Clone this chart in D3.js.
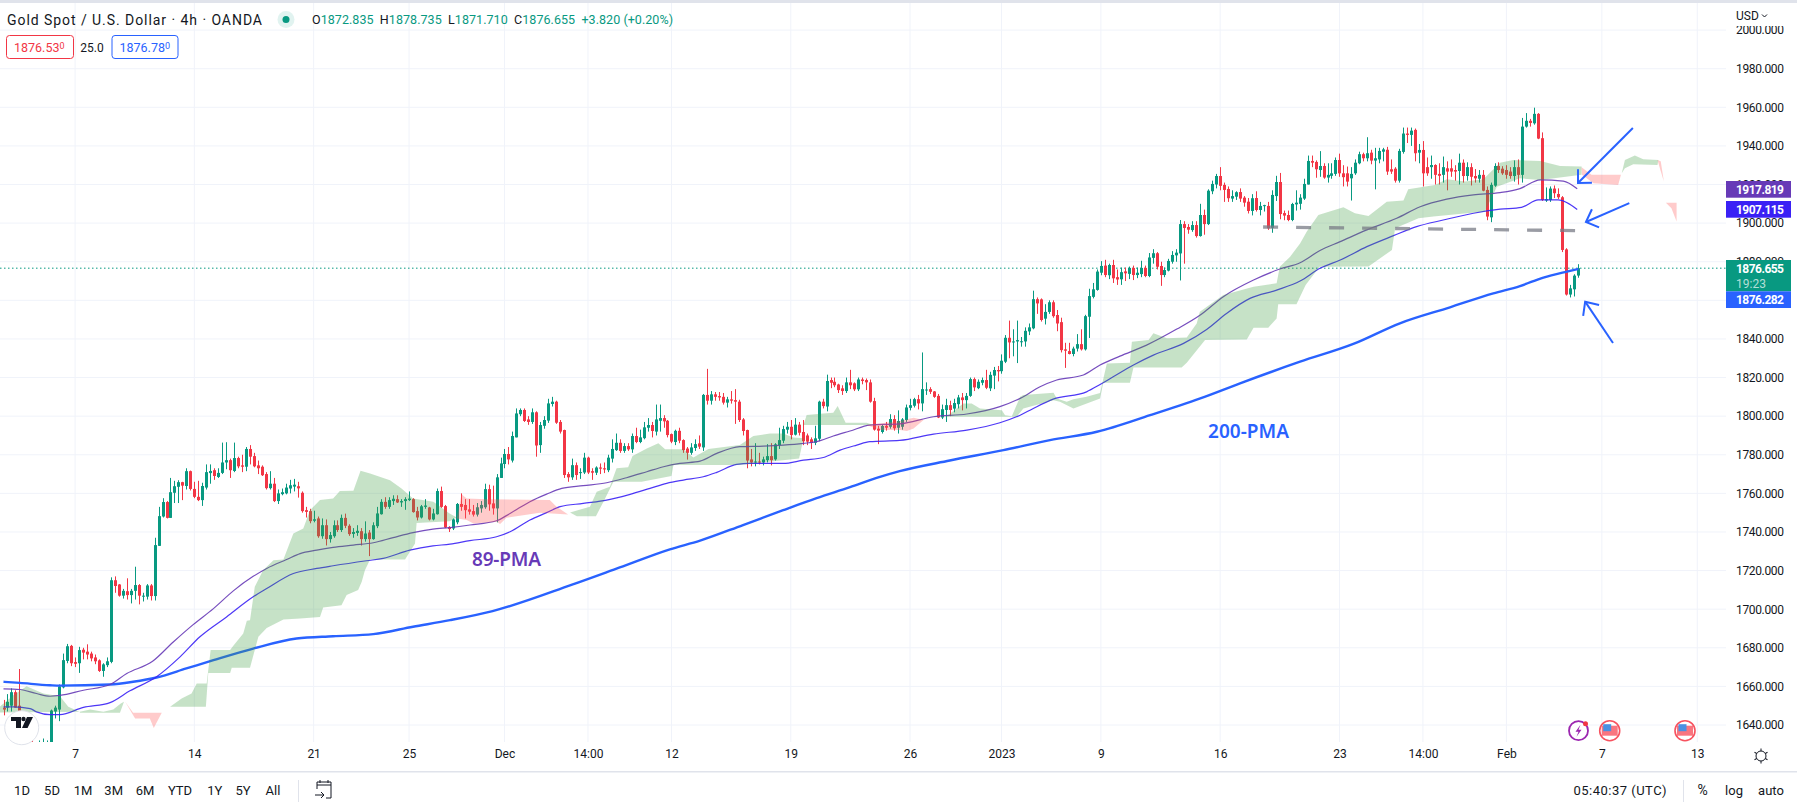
<!DOCTYPE html>
<html>
<head>
<meta charset="utf-8">
<script src="https://cdnjs.cloudflare.com/ajax/libs/d3/7.8.5/d3.min.js"></script>
<style>
  html, body { margin: 0; padding: 0; background: #fff; overflow: hidden; }
  text { font-family: Roboto, "Noto Sans", sans-serif; }
</style>
</head>
<body>
<svg id="chart" width="1797" height="810"></svg>
<script>
const UP = '#089981', DOWN = '#f23645', BLUE = '#2962ff', PURPLE = '#673ab7', INDIGO = '#3a21f5';
const TEXT = '#131722', GRID = '#f0f3fa', BORDER = '#e0e3eb';
const PANE = { left: 0, right: 1726, top: 3, bottom: 742 };

// 4h candles, oldest first: open, high, low, close
const candles = [
  [1649,1653,1645,1648],[1649,1656,1647,1652],[1650,1659,1647,1657],[1657,1658,1649,1649],[1650,1669,1640,1642],
  [1620,1633,1615,1628],[1640,1642,1625,1628],[1636,1637,1615,1620],[1622,1630,1618,1625],[1622,1632,1618,1628],
  [1623,1633,1619,1629],[1624,1632,1620,1629],[1625,1648,1622,1647.5],[1647,1650,1643.4,1649],[1648,1661,1642,1660],
  [1659.5,1677,1659,1673.6],[1673.2,1682,1672,1680.8],[1681,1681.5,1670.5,1672],[1672.6,1675,1670,1671.7],[1672,1680.5,1667,1678.8],
  [1679,1680,1674,1677.5],[1678,1681.8,1674,1676.5],[1677,1678,1673,1674.5],[1675,1676.5,1671.5,1673],[1673.5,1674,1667.5,1668],
  [1668,1672,1665,1671.4],[1671,1675,1670,1673],[1672.7,1716.5,1672,1715],[1715,1717,1708.5,1712],[1712.8,1713,1706.5,1707],
  [1707,1710.5,1705.5,1709.5],[1709.3,1716,1705,1707.3],[1707.3,1710.5,1703,1709.5],[1709.5,1722,1705,1712.5],[1712.5,1713,1702.5,1707],
  [1706.5,1708.5,1704,1707],[1706.5,1713,1705,1712.3],[1712.3,1713,1704.5,1706.8],[1706.8,1737,1704.5,1733.2],[1732.8,1753,1732.8,1748.2],
  [1748,1757.5,1747.5,1755.5],[1755.5,1756,1747,1747.3],[1747.3,1768,1747.3,1760.6],[1760.3,1766.5,1755,1763.7],[1763.4,1766.8,1755,1765.8],
  [1765.8,1766,1756.5,1764],[1763.8,1773,1762,1771.5],[1771.5,1771.8,1761.5,1762.3],[1762.3,1766,1757.5,1758.2],[1758.2,1766.5,1756,1756.5],
  [1756.5,1765.5,1753.5,1763.8],[1763,1775,1762,1771],[1770.5,1775,1765,1771.6],[1772,1773,1767,1769],[1768.5,1773,1768,1770.6],
  [1770.6,1786.3,1770,1776],[1776,1786.5,1772.5,1777.2],[1777.2,1778,1768,1772],[1771.6,1786.3,1771,1778.3],[1778.3,1779,1773,1774],
  [1774.5,1780,1771,1773.8],[1773.8,1784,1771.5,1783],[1783,1785,1775,1779],[1779.3,1781,1773.5,1774],[1774.5,1777,1770,1773],
  [1773.8,1774.5,1769,1769.4],[1770,1771,1762,1762.7],[1762.7,1771.5,1762,1765],[1765,1768,1755.5,1756],[1756,1762,1754.5,1760],
  [1759.6,1762.5,1759,1760.6],[1760,1765,1759.5,1763],[1762.5,1767,1760,1764.2],[1763.5,1767.5,1761,1764.5],[1763.7,1766,1757.8,1762.6],
  [1760.3,1761,1750,1750.8],[1751.3,1753,1747.5,1750.4],[1750.8,1752,1744.5,1745.6],[1745.8,1751,1745,1746.6],[1747,1748,1737,1737.8],
  [1737.8,1747,1736.5,1743.5],[1743.5,1746.5,1733,1736.3],[1736.3,1740,1734.5,1738.4],[1737.8,1746,1737,1743.5],[1743.5,1746,1740,1741],
  [1741,1749,1740,1747.3],[1747.3,1749.5,1742,1743.2],[1743.2,1744,1738,1738.9],[1739,1742,1737,1740],[1739.5,1743.5,1738,1740.6],
  [1740.4,1742,1733,1736.3],[1736.3,1745.5,1735,1739.2],[1739.7,1741,1727.5,1736.3],[1736.3,1745,1736,1743.5],[1743,1753,1742,1749.6],
  [1749.2,1757,1749,1755.6],[1755.6,1758,1752,1753],[1753,1758,1752,1756.5],[1756,1759,1754,1757.2],[1757,1759,1755,1755.3],
  [1755.3,1757,1753,1756],[1756,1758,1751.5,1757],[1756.5,1761,1756,1757.3],[1757,1757.5,1750,1750.3],[1750.8,1753,1746,1747.5],
  [1747.5,1754,1747,1753.3],[1753,1757,1752,1753.7],[1752.7,1753,1746,1746.5],[1746.5,1752,1746,1749.6],[1749.2,1762.5,1749,1761.2],
  [1761.2,1763.5,1752.5,1753],[1753.4,1754,1742,1742.3],[1742.6,1743,1740,1741.5],[1741.8,1747,1741,1746.5],[1745,1755,1744,1754.5],
  [1754.5,1760,1751,1753],[1754,1757,1747,1751.3],[1751.7,1757,1749,1750.5],[1750.8,1754,1748,1749],[1749,1755,1748,1752.8],
  [1752.2,1756,1750,1754],[1752.8,1765,1752,1762.2],[1762.2,1764.5,1751,1754.3],[1754.8,1764,1749,1752.2],[1752.2,1770,1745,1768.3],
  [1768,1778.5,1768,1775.5],[1775.2,1783,1773,1780.4],[1780.4,1784,1775,1777.6],[1777,1792,1776,1789.7],[1789,1804,1789,1801.4],
  [1801,1804,1800,1803.2],[1803.2,1804,1797,1797.5],[1798.3,1800,1795.5,1797],[1797,1804,1796,1802],[1802,1802.5,1779,1784.8],
  [1785,1797,1781,1795.4],[1795,1800,1793.5,1798],[1797.7,1809,1796.5,1806.6],[1806.3,1810,1805,1807.5],[1807.5,1808,1796,1796.6],
  [1797,1798,1791,1792],[1792.8,1793,1768,1769.5],[1770,1771,1766,1768.3],[1768.3,1778,1767,1774.6],[1774.6,1776,1767,1769.5],
  [1770.5,1773,1767.5,1771],[1770.8,1781,1770,1778.5],[1778.5,1779,1770,1770.8],[1771.5,1773,1767,1770.7],[1770.7,1774,1769.5,1773.4],
  [1773.4,1775.5,1770,1772.8],[1773,1776,1770.5,1772.4],[1772,1780,1771,1778.5],[1778,1788,1776,1783],[1782.4,1791,1782,1786.2],
  [1786.2,1788,1781,1782],[1782,1786,1781,1784.5],[1784.5,1786,1782,1782.8],[1782.8,1791,1781,1789.7],[1789.7,1794,1786,1786.6],
  [1786.6,1793,1786,1789],[1788.6,1797,1788,1794.2],[1794,1799,1792,1795.4],[1795.4,1797,1789,1792.3],[1792,1806,1790,1798.3],
  [1797.6,1806,1792,1799],[1799,1800.5,1794,1797.3],[1797.6,1798,1789,1790.2],[1790.7,1791,1786,1786.8],[1786.6,1793,1785,1792.4],
  [1792.4,1794,1786,1787.3],[1787.6,1788,1781,1782.4],[1783.2,1784,1777.5,1781],[1781,1786,1780,1783.8],[1783.5,1788,1782,1785.5],
  [1785.9,1790,1783,1784.2],[1783.8,1811.5,1782,1811],[1811,1824.5,1806,1808],[1808,1813,1806,1811.3],[1811.3,1812.5,1808,1810],
  [1810.4,1812.5,1808,1809.7],[1810,1812,1806,1807],[1807,1810,1804.5,1808.7],[1808.7,1813,1806.5,1808],[1808.3,1814,1796,1807.5],
  [1807.5,1808.5,1797,1798],[1798.3,1799,1790,1792.3],[1792.8,1793,1773,1777],[1777.6,1783,1774,1776],[1776,1786,1774,1776.5],
  [1776.5,1781,1775,1776],[1776,1779,1774.5,1777.6],[1777.2,1785.5,1776,1779.3],[1779.3,1786,1774.5,1777.2],[1777.6,1786,1777,1785.4],
  [1785,1794,1783,1787.6],[1787.3,1795,1786,1793.3],[1793,1797,1791,1794.5],[1794.5,1798,1788,1790.2],[1790.4,1799,1790,1795.6],
  [1795.6,1797,1790,1791.4],[1791.8,1798,1785,1787],[1790,1791,1785,1786.8],[1788,1789,1783,1786.2],[1786.2,1795,1785,1788.5],
  [1788.3,1808,1787,1807.5],[1807.5,1809,1804,1805.2],[1805,1821.5,1802.5,1818.2],[1818.7,1820,1814.5,1817.3],[1817.8,1820,1815,1816],
  [1816.4,1816.8,1812,1813.5],[1814.4,1816,1811,1813],[1813,1820,1812,1817.5],[1817.5,1824,1814,1816],[1817,1817.5,1813,1813.9],
  [1813.9,1820,1813,1819],[1819,1820,1816.5,1818.2],[1818.7,1819.5,1813.5,1817.5],[1817.5,1819,1807,1807.5],[1807.8,1809.5,1792.5,1793],
  [1793.5,1795,1785.5,1792.5],[1791.8,1795.5,1791,1794.9],[1795,1797,1792.5,1794],[1794.5,1801,1793.5,1798.5],[1798.5,1800.5,1792.5,1793.7],
  [1794,1803,1791,1797.5],[1794.5,1799,1793,1798.3],[1798,1806,1797,1804.5],[1804.3,1809,1803,1805.7],[1805.4,1809.5,1804.5,1808.8],
  [1808.8,1811,1803.5,1806.6],[1806.6,1833,1802.5,1814],[1813.5,1817.5,1811,1813.8],[1814,1815,1811.5,1812.6],[1812.8,1813,1809.5,1810],
  [1810.5,1811.5,1799,1799.3],[1799.3,1806,1798.5,1803.6],[1803.2,1809,1797,1805.7],[1805.7,1808,1800,1803.2],[1803.9,1809,1802,1806.8],
  [1806.2,1811,1804,1809.7],[1809.7,1812,1803,1808.3],[1808.3,1812,1804,1810.5],[1810.5,1820,1810,1819.2],[1819.2,1820,1813,1814.9],
  [1814.5,1819,1814,1817.8],[1817.3,1820,1816,1818.7],[1818.7,1824,1814,1814.7],[1814.4,1823,1813,1821.4],[1821,1825.5,1814,1823.9],
  [1823.9,1826,1818,1823.2],[1823.3,1832,1822,1828.7],[1828.2,1842,1827.5,1840.6],[1840.6,1849.5,1830,1838.2],[1838.2,1845,1831,1838.7],
  [1838.7,1849.5,1827.5,1839.4],[1838.4,1841,1836,1838.8],[1838.7,1846,1836,1844.2],[1843.9,1848,1842,1846],[1845.5,1865,1845,1860.6],
  [1860.6,1861.5,1853,1858.4],[1860.5,1861,1849,1849.8],[1850.5,1858,1847.5,1854],[1854,1860,1853,1859],[1859,1860,1851,1851.8],
  [1852.4,1855,1844,1848],[1848.7,1851,1833,1834.2],[1834.6,1838,1825,1833.9],[1833.7,1838,1832,1832.2],[1832.2,1836,1831,1835],
  [1835,1842.5,1833.5,1837.3],[1837.3,1845,1834,1834.6],[1834.6,1852.5,1834,1851.8],[1851.5,1866,1840.5,1862.2],[1861.8,1869,1861,1865.7],
  [1865.4,1876,1865,1874.9],[1874.3,1880.3,1873,1877.8],[1878,1881,1872,1873.1],[1873,1879,1871,1878.3],[1878.3,1881,1869,1871.4],
  [1872,1876,1868,1870.8],[1870.9,1877,1868,1874.6],[1875,1877,1870,1874],[1873.7,1877.5,1871,1876.8],[1876.8,1878,1870.5,1873.1],
  [1873.1,1877,1871.5,1874.3],[1873.6,1880.5,1872,1876.8],[1876.8,1878,1872,1872.6],[1872.6,1884.5,1872,1882.2],[1882,1886.5,1879,1884.4],
  [1884.4,1885,1876,1877.4],[1877.8,1880,1867.5,1873.1],[1873.1,1877,1872,1875.7],[1875.4,1881.5,1875,1880.4],[1880,1885.5,1879,1883.5],
  [1883.3,1886.5,1880,1884.7],[1884.3,1901.6,1870.3,1899.5],[1899.5,1901,1879,1897.5],[1898,1899.5,1894.5,1896.6],[1896.4,1901,1895.5,1899],
  [1899,1901,1892.5,1893.3],[1893.3,1910,1893,1904.2],[1904.2,1907,1894,1899.5],[1899.5,1917.5,1899,1916.8],[1916.5,1922,1915,1920.3],
  [1920,1925.5,1918,1924.4],[1924.4,1929,1917,1919.3],[1919.8,1921,1911,1917.2],[1917.7,1919,1911,1912.9],[1912.7,1917,1911,1914],
  [1913.7,1916.5,1912,1916],[1916.1,1918,1911,1912.7],[1913.2,1914,1908.5,1910.6],[1911.1,1913,1905,1906.3],[1906.3,1915,1904,1912.9],
  [1913,1916.5,1906,1906.8],[1906.8,1911,1904,1908.9],[1908.9,1909.5,1906,1909.3],[1908.9,1911,1896.5,1897.3],[1897.6,1917,1895,1914.6],
  [1914,1924.5,1911.5,1921.3],[1921.3,1926,1902,1904.7],[1905.2,1906.5,1901.5,1903.9],[1904.2,1906.5,1901,1901.6],[1901.6,1910.5,1901,1909.9],
  [1909.7,1917,1906.5,1910.6],[1910,1915,1907,1913.2],[1912.7,1923,1912,1920.3],[1920,1935,1920,1932.2],[1932.2,1935,1929,1931.3],
  [1931.7,1932.5,1923.5,1927.9],[1927.5,1937.3,1924,1929.6],[1929.6,1931,1923,1923.6],[1923.6,1931,1921,1925],[1924.5,1931,1923,1925.8],
  [1925.5,1934,1924.5,1932.7],[1932.7,1936,1924,1925.8],[1925.8,1930,1919,1923.8],[1925.8,1929.3,1919,1921.5],[1923.2,1929,1911.7,1925.5],
  [1925.8,1933,1925,1931.3],[1931,1937,1930.5,1935.7],[1935.7,1936.5,1932,1933.6],[1933.6,1944.5,1932,1936.2],[1936.5,1938,1930.5,1932.4],
  [1932.4,1939,1917.5,1933.6],[1933,1939,1931,1937.4],[1937,1939,1932,1938.2],[1938,1939.5,1925,1926.7],[1927.9,1933,1925.5,1926.7],
  [1928.2,1929,1921,1922],[1922,1938.5,1921,1937.4],[1936.9,1949.5,1936,1946.4],[1946.4,1949.5,1941.5,1945.7],[1945.7,1949.5,1940,1947.9],
  [1948.3,1949,1932,1936.2],[1936.5,1941,1931,1937.9],[1937.9,1942.5,1919,1925.8],[1929,1934,1924.5,1925.8],[1929,1935,1923,1930.1],
  [1930.1,1930.5,1920,1925],[1925.5,1931,1920,1924.5],[1925,1934.5,1921,1929],[1928.4,1932,1917,1926.7],[1928.4,1933,1924,1926.7],
  [1927.5,1930,1922,1926.7],[1927,1936,1920,1931.3],[1931.3,1933,1921,1924.4],[1924.4,1931.5,1922,1929],[1929,1931,1919.5,1924],
  [1924.4,1928,1921,1923.2],[1923,1927.5,1921,1925],[1925,1927.5,1916.5,1916.8],[1917.2,1919,1901.5,1903.4],[1903,1921,1900.5,1919.8],
  [1919.4,1931,1918.8,1929.6],[1929.6,1931.5,1926,1927.5],[1928.2,1929.5,1925,1925.8],[1927.5,1930,1923,1925],[1926.7,1929,1923,1924.4],
  [1924.4,1932.5,1921.5,1929],[1929,1933,1920,1925],[1925,1954.5,1921,1950],[1950,1957,1949.5,1953],[1953,1954,1950,1951.9],
  [1951.7,1959.8,1951,1956.6],[1956.6,1957,1943.5,1943.8],[1944,1947,1911.5,1912],[1911.7,1918.5,1911,1912.4],[1912,1919,1911,1917.9],
  [1917.9,1919.5,1913,1915.5],[1915.1,1918,1912.5,1913.4],[1913.4,1914,1885,1886.1],[1886.4,1887,1862.5,1863],[1863,1868,1861.5,1866.2],
  [1865.7,1873.5,1862,1872.8],[1872.835,1878.735,1871.71,1876.655]
];

// moving averages: [bar index, price]
const ma89 = [[0,1658.7],[4.1,1658.4],[8.3,1656.3],[11.7,1654.9],[14.2,1655.3],[20.1,1658],[26.8,1661],[31,1666.7],[37.5,1673],[42.7,1683],[47.7,1692],[52.8,1700.3],[57.8,1709.5],[62.8,1717],[66.2,1721.1],[71.2,1725.7],[74.6,1728.8],[78.8,1730.6],[82.9,1732],[88,1733.2],[93,1734.4],[98,1737.1],[103,1739.7],[108,1741.5],[112.3,1742.3],[117.3,1743.6],[124,1745.8],[127.4,1749.6],[132.4,1755.7],[136.6,1759.6],[140.4,1762.6],[145.8,1764],[151.7,1765.5],[156.7,1768.1],[161.8,1771.2],[166,1773.8],[170.1,1775.5],[175.2,1776.7],[179.4,1780.7],[185.2,1784.2],[191.1,1784.5],[196.1,1785],[201.2,1785.9],[204.5,1786.8],[208.7,1789.7],[212.9,1792.3],[217.9,1795.4],[225.4,1796],[233.9,1799.7],[242.3,1801.1],[250.6,1804.9],[255.7,1809.2],[260.7,1815.2],[264.9,1818.7],[271.6,1821.3],[275.8,1826.5],[280.8,1831.1],[287.5,1836.8],[295.1,1845.1],[301,1852.4],[306.8,1861.9],[314.4,1870.5],[321,1876.2],[326.1,1879.5],[331.1,1885.8],[336.2,1890.4],[342.9,1896.5],[350.4,1902.5],[356.3,1908.5],[363,1912.4],[369.7,1914.6],[376.4,1915.8],[381.4,1917.9],[386.5,1922.4],[392.3,1921.8],[395.8,1917.8]];
const ma55 = [[0,1649.4],[2.5,1649.4],[6.7,1648.5],[8.3,1646.8],[11.7,1645.4],[14.2,1645.4],[20.1,1649.1],[26.8,1651.6],[31.8,1657.7],[38.5,1665],[44.4,1675.3],[49.4,1685.7],[56.1,1696],[62.8,1706.4],[66.2,1710.7],[72.9,1718.5],[78.8,1721.1],[82.9,1722.5],[91.3,1725.1],[95.5,1726.3],[102.2,1730.6],[108,1732.8],[112.3,1733.7],[117.3,1735.5],[124,1737.5],[127.4,1740.1],[132.4,1746.2],[136.6,1750],[140,1753.1],[145.8,1754.8],[151.7,1756.5],[157.6,1759.5],[162.6,1762.6],[166.8,1765.2],[171,1766.9],[176,1768.6],[179.4,1770.9],[184.4,1775],[187.7,1775.5],[196.1,1775.5],[201.2,1777.2],[206.2,1778.6],[210.4,1782.4],[214.6,1785],[217.9,1786.8],[225.4,1787.4],[233.9,1790.7],[242.3,1792.8],[250.6,1796.6],[255.7,1800.5],[259,1804],[264,1808.8],[272.4,1812.6],[275.8,1816.4],[279.1,1820.4],[284.2,1826.5],[289.2,1831.6],[296.8,1837.7],[302.6,1844.9],[307.6,1853.2],[313.5,1861],[320.2,1865.3],[326.1,1870],[331.1,1876.6],[336.2,1880.9],[342.9,1887.8],[349.6,1893.5],[355.4,1898.2],[362.1,1901.6],[369.7,1905.1],[376.4,1907.2],[381.8,1908.2],[386,1912],[391,1912],[395.8,1907.1]];
const ma200 = [[0,1662.4],[4.1,1661.8],[11.7,1660.6],[14.2,1660.4],[26.8,1661],[32.6,1662.4],[38.5,1664.6],[46,1669.3],[52.8,1673.6],[62.8,1679.6],[73.7,1684.8],[82.9,1686],[93,1687.1],[103,1690.9],[112.3,1694.3],[123,1699],[143,1712.7],[155,1721.6],[167.6,1731],[175.2,1735.5],[186,1743.6],[196.1,1751.3],[204.5,1757.5],[212.9,1763.2],[219.6,1768],[225.4,1771.5],[238,1777],[251.5,1782.4],[263.2,1787.6],[275,1791.9],[288.4,1800.5],[301,1809.2],[311,1817],[326.1,1828.2],[339.5,1837.4],[351.2,1848.1],[363.8,1856.4],[374.7,1863.6],[381.4,1867.4],[387.3,1871.8],[393.2,1874.9],[396.1,1876.28]];

// ichimoku cloud outlines: [bar index, price]
const clouds = [
  { up: true, pts: [[-1,1649.4],[2.5,1655.4],[5.8,1660.1],[10,1656.3],[14.2,1654.9],[16.3,1649.4],[19.1,1646.8],[-1,1646.5]] },
  { up: true, pts: [[19.2,1646.8],[21.8,1648],[25.1,1646.8],[27.6,1648],[29.5,1651.1],[30.3,1652],[29.3,1646.3],[19.2,1646.3]] },
  { up: false, pts: [[30.6,1652],[32.6,1646.3],[39.8,1646.3],[37.8,1638.5],[36.8,1643.4],[33.1,1643.4]] },
  { up: true, pts: [[41.9,1649.4],[44.8,1653.7],[47.3,1656.3],[48.6,1661.5],[51.1,1661.5],[52.1,1678.8],[57,1678.8],[57.8,1681],[60.3,1687.4],[61.2,1694],[62,1694.3],[63.2,1711.6],[65.3,1720.2],[67.9,1725.4],[70.4,1725.7],[72.9,1739.2],[75.4,1741.8],[77.1,1751.3],[79.6,1756.5],[82.9,1757.4],[84.6,1761.2],[88,1761.3],[89.8,1771.7],[92.2,1770.3],[97.2,1766.8],[100.1,1762.5],[103,1757.4],[108.1,1755.6],[112.2,1749.6],[114,1747.5],[112.2,1745.6],[103.9,1744.7],[103.5,1734],[101,1725.7],[92.2,1725.7],[90.9,1720.2],[90.1,1714.2],[89.2,1709.9],[86.3,1707.3],[85,1702.1],[80.4,1700.9],[79.6,1696],[74.6,1695.2],[70.4,1694.7],[66.2,1690.3],[64.1,1685.7],[62,1669.6],[57.4,1669.6],[57,1667],[51.5,1667],[50.9,1649.4]] },
  { up: false, pts: [[114,1747],[115.2,1759.5],[116.5,1757.4],[121.5,1757],[137.4,1756.5],[139.1,1753.1],[142,1749.1],[134.9,1750],[126.5,1747.4],[124.9,1744.1],[124,1745.3],[118.2,1744.4],[116.5,1746.2]] },
  { up: true, pts: [[142.5,1750.1],[147.5,1753.1],[149.2,1760.9],[152.5,1763.4],[154.2,1773],[157.1,1773.5],[158.2,1779.3],[161.8,1783.3],[164.7,1785.9],[166.4,1782.8],[171,1782.8],[173.5,1778.6],[177.3,1783],[185.2,1785],[188.6,1789.7],[192.8,1791],[196.1,1791],[198.6,1789],[201.2,1788.5],[200.1,1778.1],[185.2,1774.7],[168.5,1774.7],[168,1769],[160.5,1766],[153.4,1766],[150.9,1755.7],[149,1748.2],[144.2,1748.2]] },
  { up: true, pts: [[201.2,1795.4],[202,1800.6],[206.2,1801.4],[208.7,1801.8],[209.8,1805.2],[211.8,1796.6],[217.1,1796.6],[218.8,1795.4]] },
  { up: false, pts: [[217.1,1795.4],[225.5,1797.5],[228.9,1799.2],[231.4,1798],[228.9,1793.6],[227.2,1792.3],[225.5,1792.8],[220.4,1792.8]] },
  { up: true, pts: [[231.8,1799.7],[237.2,1800],[241.4,1806.6],[243.5,1806.6],[245.6,1804],[251.1,1803.1],[251.9,1800.5],[253.6,1800],[255.7,1810],[256.5,1810.9],[264.1,1812.1],[264.9,1809.2],[267.4,1807.4],[269.1,1808.8],[272.4,1810],[275.8,1812],[277.5,1827.3],[283.3,1827.7],[283.8,1838.5],[288,1839.4],[289.2,1842.9],[292.6,1840.3],[297.6,1840.8],[300.1,1848],[300.9,1854.1],[306.8,1862.7],[314.4,1867],[320.2,1868.8],[321,1877.4],[323.6,1882.6],[326.1,1889.5],[327.8,1895.6],[330.7,1904.2],[337,1908.2],[339.9,1905.1],[343.3,1903.7],[347.9,1911.1],[352.1,1911.7],[353.3,1917.5],[360,1919.8],[363,1922.7],[367.6,1921.5],[372.2,1922.7],[376.4,1931.3],[379.7,1932.7],[386.5,1932.2],[391.5,1929.6],[396.9,1929.3],[396.9,1925],[386.5,1922.4],[381.4,1923.2],[375.6,1918.9],[372.6,1906],[359.6,1903.4],[355.9,1902.5],[350,1897.3],[349.2,1886.1],[343.3,1877.5],[331,1877.4],[327.5,1868],[325.2,1858],[320.6,1858],[320.2,1850.6],[318.1,1845.8],[314.4,1845.8],[312.7,1839.7],[302.2,1839.4],[297.6,1827.7],[296.3,1825.2],[284.2,1825.2],[283.3,1817.3],[276.6,1817.3],[275.8,1809.2],[269.1,1804],[265.7,1807.4],[264.1,1808.3],[256.5,1804],[254.8,1799.7]] },
  { up: false, pts: [[396.9,1929],[399.4,1925],[406.8,1925],[406.1,1919.8],[399.9,1920.6],[397,1925]] },
  { up: true, pts: [[407,1925.8],[407.8,1932.7],[410.3,1935],[412.4,1933.1],[416.2,1932.7],[416,1930.1],[409.9,1930.5],[407.8,1928.4]] },
  { up: false, pts: [[416,1932.7],[416.8,1932],[417.6,1921.5],[416.8,1927]] },
  { up: false, pts: [[418.1,1910.6],[420.8,1910.6],[420.8,1900.8],[419.5,1907.7]] }
];

const timeTicks = [[18,'7'],[48,'14'],[78,'21'],[102,'25'],[126,'Dec'],[147,'14:00'],[168,'12'],[198,'19'],[228,'26'],[251,'2023'],[276,'9'],[306,'16'],[336,'23'],[357,'14:00'],[378,'Feb'],[402,'7'],[426,'13']];
const support = [[316.8,1898],[395.6,1896.1]];

// hand drawn arrows on the chart: shaft then head
const arrows = [
  { shaft: [[409.8,1949.3],[396,1920.8]], head: [[396,1927.9],[396,1920.8],[399.5,1920.9]] },
  { shaft: [[408.9,1910.4],[398,1900.6]], head: [[399.5,1907.2],[398,1900.6],[401.3,1897.8]] },
  { shaft: [[404.8,1837.9],[397.8,1859.3]], head: [[397.3,1851.9],[397.8,1859.3],[401.3,1857.6]] }
];

const svg = d3.select('#chart');
const x = d3.scaleLinear().domain([0, 396]).range([3.5, 1578]);
const y = d3.scaleLinear().domain([1640, 1960]).range([725, 107.3]);
const toPath = d3.line().x(d => x(d[0])).y(d => y(d[1]));
const toCurve = d3.line().x(d => x(d[0])).y(d => y(d[1])).curve(d3.curveMonotoneX);

svg.append('defs').append('clipPath').attr('id', 'pane')
  .append('rect').attr('x', PANE.left).attr('y', PANE.top)
  .attr('width', PANE.right - PANE.left).attr('height', PANE.bottom - PANE.top);

// grid
const grid = svg.append('g');
grid.selectAll('line.h').data(d3.range(1640, 2001, 20)).join('line').attr('class', 'h')
  .attr('x1', PANE.left).attr('x2', PANE.right).attr('y1', d => y(d)).attr('y2', d => y(d))
  .attr('stroke', GRID);
grid.selectAll('line.v').data(timeTicks).join('line').attr('class', 'v')
  .attr('x1', d => x(d[0])).attr('x2', d => x(d[0])).attr('y1', PANE.top).attr('y2', PANE.bottom)
  .attr('stroke', GRID);

const pane = svg.append('g').attr('clip-path', 'url(#pane)');

// last price line
pane.append('line').attr('x1', PANE.left).attr('x2', PANE.right)
  .attr('y1', y(1876.655)).attr('y2', y(1876.655))
  .attr('stroke', UP).attr('stroke-dasharray', '1.5 2.5');

// candles
const bars = pane.append('g').selectAll('g').data(candles).join('g')
  .attr('fill', d => d[3] >= d[0] ? UP : DOWN);
bars.append('rect')
  .attr('x', (d, i) => Math.round(x(i))).attr('width', 1)
  .attr('y', d => y(d[1])).attr('height', d => y(d[2]) - y(d[1]));
bars.append('rect')
  .attr('x', (d, i) => Math.round(x(i)) - 1).attr('width', 3)
  .attr('y', d => y(Math.max(d[0], d[3])))
  .attr('height', d => Math.max(1, Math.abs(y(d[0]) - y(d[3]))));

// moving averages
pane.append('path').attr('d', toCurve(ma200)).attr('fill', 'none').attr('stroke', BLUE).attr('stroke-width', 2.4);
pane.append('path').attr('d', toCurve(ma89)).attr('fill', 'none').attr('stroke', PURPLE).attr('stroke-width', 1.2).attr('opacity', 0.9);
pane.append('path').attr('d', toCurve(ma55)).attr('fill', 'none').attr('stroke', INDIGO).attr('stroke-width', 1.2).attr('opacity', 0.9);

// cloud goes over the lines, as in the picture the purple line greys inside it
pane.append('g').selectAll('path').data(clouds).join('path')
  .attr('d', d => toPath(d.pts) + 'Z')
  .attr('fill', d => d.up ? 'rgba(67,160,71,0.3)' : 'rgba(255,82,82,0.3)');

// drawings
pane.append('path').attr('d', toPath(support)).attr('fill', 'none')
  .attr('stroke', '#787b86').attr('stroke-opacity', 0.75).attr('stroke-width', 3.3).attr('stroke-dasharray', '15 18');
const drawn = pane.append('g').attr('fill', 'none').attr('stroke', BLUE).attr('stroke-width', 2);
drawn.selectAll('path.shaft').data(arrows).join('path').attr('class', 'shaft').attr('d', d => toPath(d.shaft));
drawn.selectAll('path.head').data(arrows).join('path').attr('class', 'head').attr('d', d => toPath(d.head));

svg.append('text').text('200-PMA').attr('x', 1208).attr('y', 437.5).attr('fill', BLUE)
  .attr('font-size', 19).attr('font-weight', 600).attr('textLength', 81).style('font-family', '"Noto Sans"');
svg.append('text').text('89-PMA').attr('x', 472).attr('y', 566).attr('fill', PURPLE)
  .attr('font-size', 19).attr('font-weight', 600).attr('textLength', 69).style('font-family', '"Noto Sans"');

// axes
const priceAxis = svg.append('g').attr('transform', 'translate(1736,0)')
  .call(d3.axisRight(y).tickValues(d3.range(1640, 2001, 20)).tickFormat(d3.format('.3f')).tickSize(0).tickPadding(0));
priceAxis.select('.domain').remove();
priceAxis.selectAll('text').attr('font-size', 12).attr('fill', TEXT).attr('textLength', 48);

const timeAxis = svg.append('g').attr('transform', 'translate(0,749)')
  .call(d3.axisBottom(x).tickValues(timeTicks.map(d => d[0]))
    .tickFormat(i => timeTicks.find(d => d[0] === i)[1]).tickSize(0).tickPadding(0));
timeAxis.select('.domain').remove();
timeAxis.selectAll('text').attr('font-size', 12).attr('fill', TEXT);

svg.append('rect').attr('x', 1727).attr('y', 3).attr('width', 70).attr('height', 23).attr('fill', '#fff');
svg.append('text').text('USD').attr('x', 1736).attr('y', 20).attr('font-size', 12).attr('fill', TEXT);
svg.append('path').attr('d', 'M1762 14.500l2.500 2.500 2.500-2.500').attr('fill', 'none').attr('stroke', TEXT);

// price tags on the scale
const tags = [
  { top: 181, h: 16.7, fill: PURPLE, label: '1917.819' },
  { top: 201, h: 16.7, fill: INDIGO, label: '1907.115' },
  { top: 260, h: 31.3, fill: UP, label: '1876.655', sub: '19:23' },
  { top: 291.3, h: 16.7, fill: BLUE, label: '1876.282' }
];
const tag = svg.append('g').selectAll('g').data(tags).join('g');
tag.append('rect').attr('x', 1726).attr('y', d => d.top).attr('width', 65).attr('height', d => d.h).attr('fill', d => d.fill);
tag.append('text').text(d => d.label).attr('x', 1736).attr('y', d => d.top + 12.6)
  .attr('font-size', 12).attr('font-weight', 700).attr('fill', '#fff').attr('textLength', 48);
tag.filter(d => d.sub).append('text').text(d => d.sub).attr('x', 1736).attr('y', d => d.top + 27.5)
  .attr('font-size', 12).attr('fill', '#fff').attr('fill-opacity', 0.7);

// top and bottom chrome
svg.append('rect').attr('width', 1797).attr('height', 3).attr('fill', BORDER);
svg.append('rect').attr('y', 771).attr('width', 1797).attr('height', 1.5).attr('fill', BORDER);

// header
const head = svg.append('g');
head.append('text').text('Gold Spot / U.S. Dollar · 4h · OANDA').attr('x', 7).attr('y', 24.5)
  .attr('font-size', 14).attr('fill', TEXT).attr('textLength', 255);
head.append('circle').attr('cx', 286).attr('cy', 19.5).attr('r', 8.5).attr('fill', UP).attr('fill-opacity', 0.12);
head.append('circle').attr('cx', 286).attr('cy', 19.5).attr('r', 3.5).attr('fill', UP);
const ohlc = head.append('text').attr('x', 312).attr('y', 24).attr('font-size', 12.5);
[['O', TEXT], ['1872.835  ', UP], ['H', TEXT], ['1878.735  ', UP], ['L', TEXT], ['1871.710  ', UP], ['C', TEXT], ['1876.655  +3.820 (+0.20%)', UP]]
  .forEach(d => ohlc.append('tspan').text(d[0]).attr('fill', d[1]).attr('xml:space', 'preserve'));
ohlc.attr('textLength', 361).style('white-space', 'pre');

// bid / ask boxes
const quote = [{ x: 6, w: 67, c: DOWN, t: '1876.53' }, { x: 111.5, w: 66, c: BLUE, t: '1876.78' }];
const q = head.selectAll('g.q').data(quote).join('g').attr('class', 'q');
q.append('rect').attr('x', d => d.x + 0.5).attr('y', 35.5).attr('width', d => d.w).attr('height', 23).attr('rx', 3)
  .attr('fill', '#fff').attr('stroke', d => d.c);
const qt = q.append('text').attr('x', d => d.x + 8).attr('y', 51.5).attr('font-size', 12.5).attr('fill', d => d.c);
qt.append('tspan').text(d => d.t);
qt.append('tspan').text('0').attr('font-size', 9).attr('dy', -3);
head.append('text').text('25.0').attr('x', 92).attr('y', 51.5).attr('font-size', 12).attr('text-anchor', 'middle').attr('fill', TEXT);

// logo
const logo = svg.append('g');
logo.append('circle').attr('cx', 21.7).attr('cy', 727.7).attr('r', 17).attr('fill', '#fff').attr('stroke', BORDER);
logo.append('path').attr('d', 'M11 717h10v11h-5v-7h-5z M27 717h6l-5.500 11h-5.500z').attr('fill', '#131722');
logo.append('circle').attr('cx', 23.5).attr('cy', 719).attr('r', 2.2).attr('fill', '#131722');

// event markers
const flags = [1609.7, 1685];
const flag = svg.append('g').selectAll('g').data(flags).join('g').attr('transform', d => `translate(${d},730.7)`);
flag.append('circle').attr('r', 10).attr('fill', '#fff').attr('stroke', '#f7525f').attr('stroke-width', 1.6);
flag.append('rect').attr('x', -8).attr('y', -5).attr('width', 16).attr('height', 10).attr('fill', '#f7525f').attr('fill-opacity', 0.8);
flag.append('rect').attr('x', -6.5).attr('y', -6.5).attr('width', 8).attr('height', 7).attr('fill', '#4a90e2');
const bolt = svg.append('g').attr('transform', 'translate(1578.5,730.7)');
bolt.append('circle').attr('r', 9.5).attr('fill', '#fff').attr('stroke', '#9c27b0').attr('stroke-width', 1.8);
bolt.append('path').attr('d', 'M2-6l-5 7h3l-2 5 5-7h-3z').attr('fill', '#9c27b0');
bolt.append('circle').attr('cx', 7).attr('cy', -7).attr('r', 2.5).attr('fill', DOWN);

// gear on the corner of the scales
const gear = svg.append('g').attr('transform', 'translate(1761,756)').attr('fill', 'none').attr('stroke', TEXT);
gear.append('circle').attr('r', 5);
gear.selectAll('line').data(d3.range(0, 360, 60)).join('line')
  .attr('y1', -5).attr('y2', -7.5).attr('transform', d => `rotate(${d})`);

// bottom toolbar
const ranges = [['1D',22],['5D',52],['1M',83],['3M',113.7],['6M',145],['YTD',180],['1Y',214.7],['5Y',243],['All',273]];
const toolbar = svg.append('g').attr('font-size', 13).attr('text-anchor', 'middle').attr('fill', TEXT);
toolbar.selectAll('text').data(ranges).join('text').text(d => d[0]).attr('x', d => d[1]).attr('y', 795);
toolbar.append('text').text('05:40:37 (UTC)').attr('x', 1620).attr('y', 795).attr('textLength', 93);
toolbar.append('text').text('%').attr('x', 1702.7).attr('y', 795).attr('font-size', 14);
toolbar.append('text').text('log').attr('x', 1734).attr('y', 795);
toolbar.append('text').text('auto').attr('x', 1771).attr('y', 795);
svg.append('line').attr('x1', 298.5).attr('x2', 298.5).attr('y1', 780).attr('y2', 802).attr('stroke', BORDER);
svg.append('line').attr('x1', 1683.5).attr('x2', 1683.5).attr('y1', 780).attr('y2', 802).attr('stroke', BORDER);
svg.append('path').attr('d', 'M317 789v-7h14v16h-5 M317 785h14 M320 780v3 M328 780v3 M315 795h9 M321 792l3 3-3 3')
  .attr('fill', 'none').attr('stroke', TEXT);
</script>
</body>
</html>
